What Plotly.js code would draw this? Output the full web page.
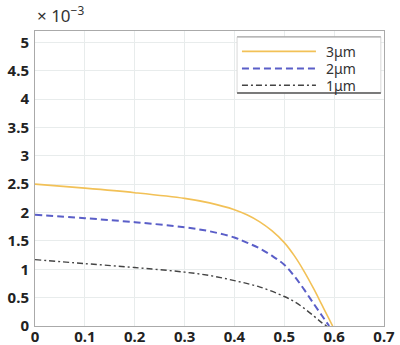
<!DOCTYPE html>
<html><head><meta charset="utf-8">
<script src="https://cdn.plot.ly/plotly-3.0.1.min.js"></script>
<style>html,body{margin:0;padding:0;background:#fff}#c{width:400px;height:345px}</style>
</head><body><div id="c"></div>
<script>
const names = ['3μm','2μm','1μm'];
const x3 = [0,0.1,0.2,0.3,0.35,0.4,0.425,0.45,0.475,0.5,0.52,0.54,0.56,0.575,0.59,0.597];
const y3 = [2.50,2.43,2.35,2.25,2.17,2.05,1.96,1.84,1.68,1.47,1.24,0.96,0.64,0.38,0.12,0];
const x2 = [0,0.1,0.2,0.3,0.35,0.4,0.425,0.45,0.475,0.5,0.52,0.54,0.56,0.575,0.59];
const y2 = [1.96,1.90,1.83,1.74,1.67,1.56,1.47,1.37,1.24,1.08,0.88,0.64,0.38,0.19,0];
const x1 = [0,0.1,0.2,0.3,0.35,0.4,0.45,0.5,0.52,0.54,0.56,0.575,0.585];
const y1 = [1.17,1.10,1.03,0.95,0.89,0.80,0.69,0.52,0.43,0.31,0.17,0.06,0];
const xTicks = [0,0.1,0.2,0.3,0.4,0.5,0.6,0.7];
const yTicks = [0,0.5,1,1.5,2,2.5,3,3.5,4,4.5,5];

const styles = [
  {color:'#f2c157', width:1.6, dash:'solid'},
  {color:'#5a5ec8', width:2, dash:'7px,4px'},
  {color:'#444444', width:1.4, dash:'6px,3px,2px,3px'}
];
const xs=[x3,x2,x1], ys=[y3,y2,y1];
const traces = xs.map((x,i)=>({x:x, y:ys[i], type:'scatter', mode:'lines', name:names[i],
  line:{color:styles[i].color, width:styles[i].width, dash:styles[i].dash, shape:'spline', smoothing:1},
  showlegend:false}));

const tickFont = {family:'Noto Sans, sans-serif', size:15, color:'#222', weight:'bold'};
const shapes = [
  {type:'rect', xref:'paper', yref:'paper', x0:0.579, x1:0.991, y0:0.79, y1:0.98, fillcolor:'#fff', line:{color:'#d8d8d8', width:1}, layer:'above'},
  {type:'line', xref:'paper', yref:'paper', x0:0.579, x1:0.991, y0:0.98, y1:0.98, line:{color:'#999', width:1}, layer:'above'},
  {type:'line', xref:'paper', yref:'paper', x0:0.579, x1:0.991, y0:0.79, y1:0.79, line:{color:'#555', width:1.5}, layer:'above'}
];
const rowY = [0.931, 0.873, 0.816];
const annotations = [
  {xref:'paper', yref:'paper', x:0, y:1, xanchor:'left', yanchor:'bottom', yshift:2, showarrow:false,
   text:'× 10<sup>−3</sup>', font:{family:'Noto Sans, sans-serif', size:17, color:'#333'}}
];
names.forEach((n,i)=>{
  shapes.push({type:'line', xref:'paper', yref:'paper', x0:0.593, x1:0.805, y0:rowY[i], y1:rowY[i],
    line:{color:styles[i].color, width:styles[i].width, dash:styles[i].dash}, layer:'above'});
  annotations.push({xref:'paper', yref:'paper', x:0.83, y:rowY[i], xanchor:'left', yanchor:'middle', showarrow:false,
    text:n, font:{family:'Noto Sans, sans-serif', size:14, color:'#333'}, borderpad:0});
});

const layout = {
  width:400, height:345,
  margin:{l:35, r:16, t:31, b:18.5, pad:0},
  paper_bgcolor:'#fff', plot_bgcolor:'#fff',
  xaxis:{range:[0,0.7], tickvals:xTicks, ticktext:xTicks.map(String), showgrid:true, gridcolor:'#e8ecec',
    zeroline:false, showline:true, linecolor:'#aaa', mirror:true, ticks:'', tickfont:tickFont, ticklabelstandoff:-3},
  yaxis:{range:[0,5.2], tickvals:yTicks, ticktext:yTicks.map(String), showgrid:true, gridcolor:'#e8ecec',
    zeroline:false, showline:true, linecolor:'#aaa', mirror:true, ticks:'', tickfont:tickFont, ticklabelstandoff:2},
  shapes:shapes, annotations:annotations, showlegend:false
};
Plotly.newPlot('c', traces, layout, {displayModeBar:false, staticPlot:true});
</script></body></html>
